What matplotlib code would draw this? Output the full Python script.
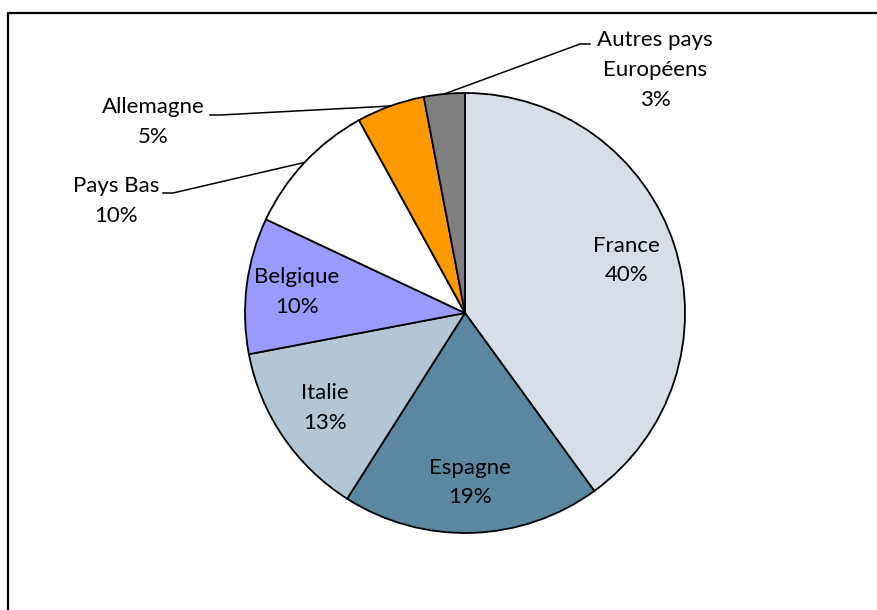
import numpy as np
import matplotlib
matplotlib.use("Agg")
import matplotlib.pyplot as plt

plt.rcParams['font.family'] = ['Lato', 'DejaVu Sans']

pays = ['France', 'Espagne', 'Italie', 'Belgique', 'Pays Bas', 'Allemagne', 'Autres pays\nEuropéens']
parts = [40, 19, 13, 10, 10, 5, 3]
couleurs = ['#D6DFE8', '#5B87A0', '#B3C6D5', '#9B9BFF', '#FFFFFF', '#FF9900', '#808080']

W, H = 877, 610
fig = plt.figure(figsize=(W / 100, H / 100), dpi=100)
ax = fig.add_axes([0, 0, 1, 1])

cx, cy, r = 465, H - 313, 220
wedges, _ = ax.pie(parts, colors=couleurs, startangle=90, counterclock=False,
                   center=(cx, cy), radius=r, frame=True,
                   wedgeprops=dict(edgecolor='black', linewidth=1.3))
ax.set_xlim(0, W)
ax.set_ylim(0, H)
ax.set_aspect('equal')
ax.axis('off')

fs = 16
ls = 1.6
# labels inside the slices
for w, nom, p in zip(wedges[:4], pays[:4], parts[:4]):
    a = np.deg2rad((w.theta1 + w.theta2) / 2)
    x = cx + 0.77 * r * np.cos(a)
    y = cy + 0.77 * r * np.sin(a)
    ax.text(x, y, f"{nom}\n{p}%", ha='center', va='center', fontsize=fs, linespacing=ls)

# labels outside with leader lines (text pos, elbow, end)
ext = {
    4: ((116, 201), (173, 193), (163, 193)),
    5: ((153, 122), (220, 115), (210, 115)),
    6: ((655, 70), (580, 44), (590, 44)),
}
for i, (tpos, coude, fin) in ext.items():
    w = wedges[i]
    a = np.deg2rad((w.theta1 + w.theta2) / 2)
    x0 = cx + r * np.cos(a)
    y0 = cy + r * np.sin(a)
    ax.plot([x0, coude[0], fin[0]], [y0, H - coude[1], H - fin[1]], color='black', lw=1.1)
    ax.text(tpos[0], H - tpos[1], f"{pays[i]}\n{parts[i]}%", ha='center', va='center',
            fontsize=fs, linespacing=ls)

# frame (only left and top visible)
ax.plot([8, 8, W + 5], [-5, H - 13, H - 13], color='black', lw=1.6, clip_on=False)

fig.savefig('out.png', dpi=100)
